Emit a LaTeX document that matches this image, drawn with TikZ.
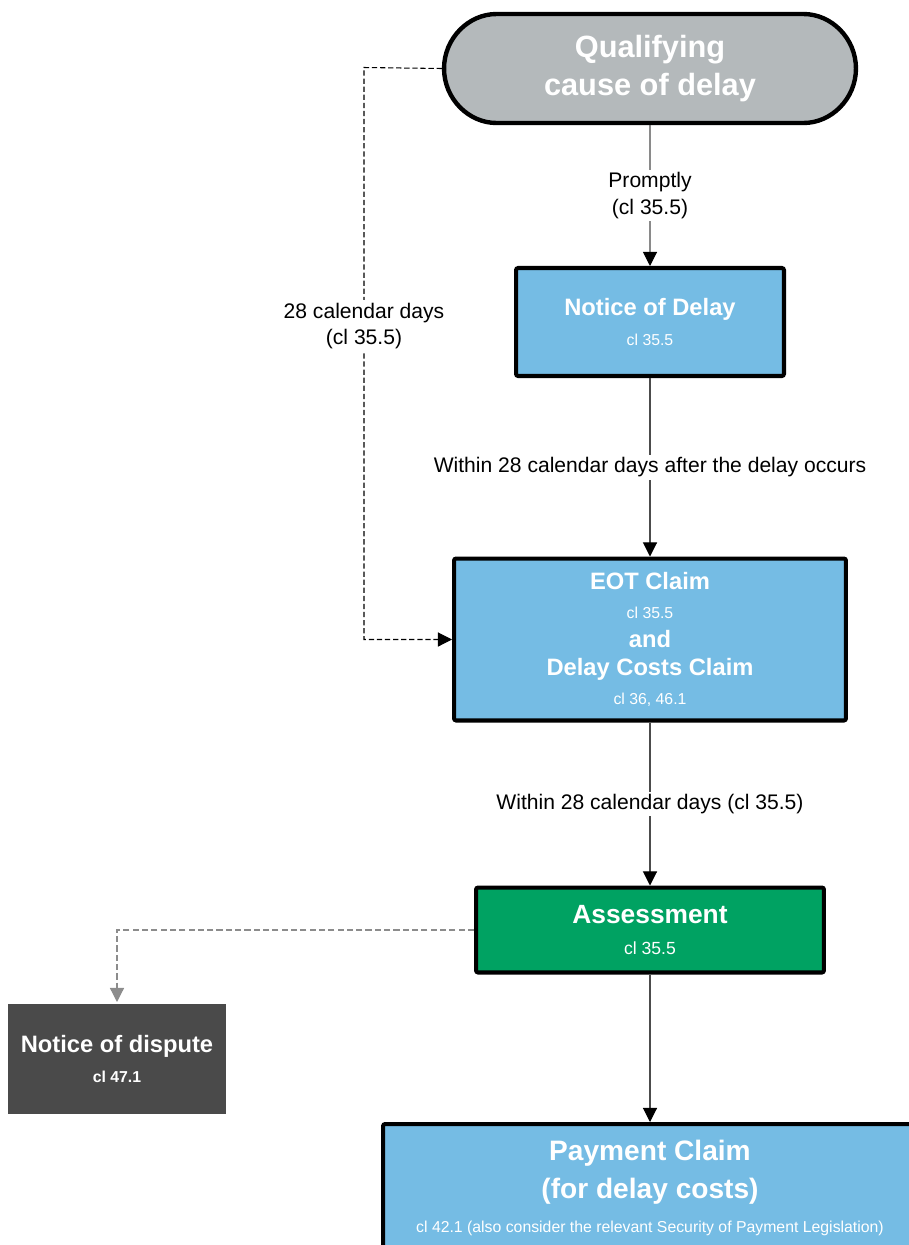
\documentclass[tikz,border=0pt]{standalone}
\usepackage{fontspec}
\setmainfont{Liberation Sans}
\usetikzlibrary{shapes.misc, arrows.meta}

\definecolor{causegrey}{HTML}{B4B9BB}
\definecolor{stageblue}{HTML}{75BCE4}
\definecolor{stagegreen}{HTML}{00A262}
\definecolor{disputegrey}{HTML}{4A4A4A}
\definecolor{linkgrey}{HTML}{8C8C8C}

\tikzset{
  stagebox/.style={draw=black, line width=2.3pt, rounded corners=1.2pt, text=white, align=center, inner sep=0pt},
  flowline/.style={draw=black!70, line width=0.6pt, -{Triangle[length=8pt,width=8pt,color=black]}},
  steplabel/.style={fill=white, text=black, align=center, inner sep=1.5pt, font=\fontsize{12}{15.3}\selectfont}
}
\newcommand{\clref}[1]{{\mdseries\fontsize{9}{11}\selectfont #1}}

\begin{document}
\begin{tikzpicture}[x=0.02cm, y=-0.02cm]

	%page frame
	\useasboundingbox (0,0) rectangle (909,1245);
	\clip (0,0) rectangle (909,1245);

	\node [stagebox, rounded rectangle, line width=2.5pt, fill=causegrey, minimum width=8.24cm, minimum height=2.18cm,
	       font=\bfseries\fontsize{17.5}{21.5}\selectfont] (cause) at (650,68.5) {Qualifying\\cause of delay};

	\node [stagebox, fill=stageblue, minimum width=5.36cm, minimum height=2.16cm,
	       font=\bfseries\fontsize{13.5}{17.3}\selectfont] (delay) at (650,322) {Notice of Delay\\\clref{cl 35.5}};

	\node [stagebox, fill=stageblue, minimum width=7.84cm, minimum height=3.24cm,
	       font=\bfseries\fontsize{13.5}{16.3}\selectfont] (eot) at (650,639.5)
	       {EOT Claim\\\clref{cl 35.5}\\and\\Delay Costs Claim\\\clref{cl 36, 46.1}};

	\node [stagebox, fill=stagegreen, minimum width=6.96cm, minimum height=1.70cm,
	       font=\bfseries\fontsize{15}{17.9}\selectfont] (assess) at (650,930)
	       {Assessment\\{\mdseries\fontsize{10}{12}\selectfont cl 35.5}};

	\node [stagebox, draw=none, rounded corners=0pt, fill=disputegrey, minimum width=4.36cm, minimum height=2.2cm,
	       font=\bfseries\fontsize{13.5}{16.7}\selectfont] (dispute) at (117,1059)
	       {Notice of dispute\\{\fontsize{9}{11}\selectfont cl 47.1}};

	\node [stagebox, fill=stageblue, minimum width=10.68cm, minimum height=2.56cm,
	       font=\bfseries\fontsize{16}{21.6}\selectfont] (payment) at (650,1188)
	       {Payment Claim\\(for delay costs)\\[-2.3pt]\clref{cl 42.1 (also consider the relevant Security of Payment Legislation)}};

%main flow
	\draw [flowline] (cause) -- node [steplabel] {Promptly\\(cl 35.5)} (delay);
	\draw [flowline] (delay) -- node [steplabel] {Within 28 calendar days after the delay occurs} (eot);
	\draw [flowline] (eot) -- node [steplabel] {Within 28 calendar days (cl 35.5)} (assess);
	\draw [flowline] (assess) -- (payment);

%side links
	\coordinate (bendtop) at (364,67.5);
	\coordinate (bendbot) at (364,639.5);
	\draw [black, line width=0.6pt, dash pattern=on 3pt off 1.6pt, -{Triangle[length=8pt,width=8pt]}]
	      (cause.west) -- (bendtop) -- node [steplabel, pos=0.452] {28 calendar days\\(cl 35.5)} (bendbot) -- (eot.west);
	\draw [linkgrey, line width=0.7pt, dash pattern=on 3.5pt off 1.8pt, -{Triangle[length=8pt,width=8pt]}]
	      (assess.west) -| (dispute.north);

\end{tikzpicture}
\end{document}
